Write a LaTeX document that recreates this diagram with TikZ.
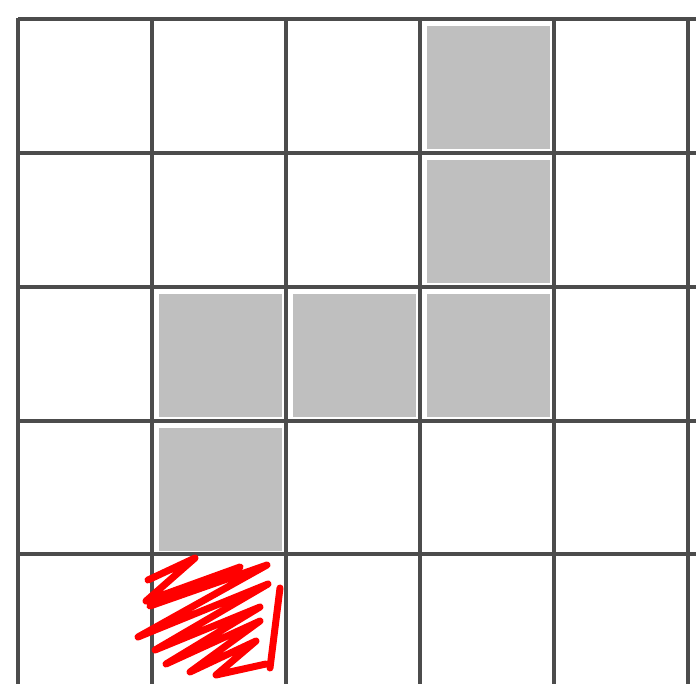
\documentclass[tikz,border=0pt]{standalone}
\begin{document}
\begin{tikzpicture}[x=1pt,y=-1pt,
  gridline/.style={draw=black!70,line width=3.5pt},
  cellfill/.style={fill=black!25,draw=none},
  scribble/.style={draw=red,line width=7pt,line cap=round,line join=round}]
\useasboundingbox (0,0) rectangle (696,684);
% shaded cells
\foreach \cx/\cy in {420/19,420/153,420/287,286/287,152/287,152/421}
  \fill[cellfill] (\cx+7,\cy+7) rectangle (\cx+130,\cy+130);
% grid
\foreach \gx in {18,152,286,420,554,688}
  \draw[gridline] (\gx,18) -- (\gx,684);
\foreach \gy in {19,153,287,421,554}
  \draw[gridline] (18,\gy) -- (696,\gy);
% red scribble
\draw[scribble] (148,580) -- (195,558) -- (146,601) -- (240,567) -- (150,606) -- (267,565)
  -- (138,637) -- (268,584) -- (155,650) -- (260,607) -- (166,664) -- (260,621)
  -- (190,672) -- (256,641) -- (216,675) -- (266,664);
\draw[scribble] (280,588) -- (270,668);
\end{tikzpicture}
\end{document}
